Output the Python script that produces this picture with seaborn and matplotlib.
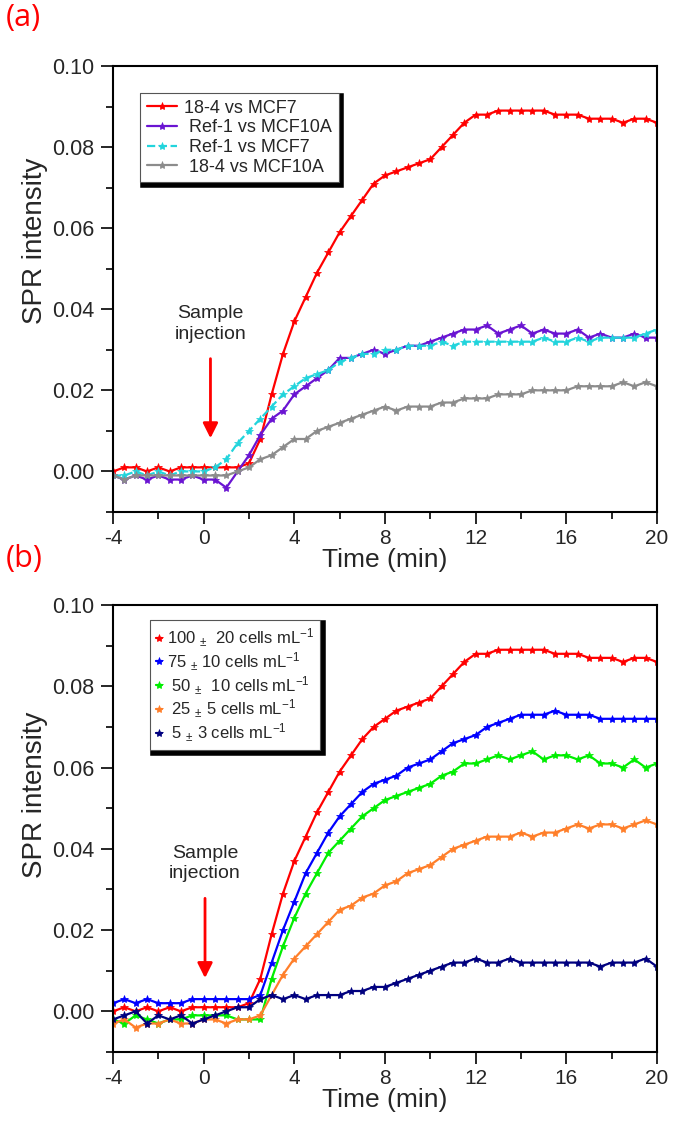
import numpy as np
import pandas as pd
import matplotlib
matplotlib.use("Agg")
import matplotlib.pyplot as plt
import seaborn as sns

# sampling grid (min), every 0.5 min from -4 to 20
TIME = np.arange(-4, 20.5, 0.5)

# panel (a)
A_LABELS = ["18-4 vs MCF7", " Ref-1 vs MCF10A", " Ref-1 vs MCF7", " 18-4 vs MCF10A"]
A_COLORS = ["#ff0000", "#6a14d2", "#22d4dc", "#8c8c8c"]
a_red = [0.000, 0.001, 0.001, 0.000, 0.001, 0.000, 0.001, 0.001, 0.001, 0.001,
         0.001, 0.001, 0.002, 0.008, 0.019, 0.029, 0.037, 0.043, 0.049, 0.054,
         0.059, 0.063, 0.067, 0.071, 0.073, 0.074, 0.075, 0.076, 0.077, 0.080,
         0.083, 0.086, 0.088, 0.088, 0.089, 0.089, 0.089, 0.089, 0.089, 0.088,
         0.088, 0.088, 0.087, 0.087, 0.087, 0.086, 0.087, 0.087, 0.086]
a_purple = [-0.001, -0.002, -0.001, -0.002, -0.001, -0.002, -0.002, -0.001, -0.002, -0.002,
            -0.004, 0.000, 0.004, 0.009, 0.013, 0.015, 0.019, 0.021, 0.023, 0.025,
            0.028, 0.028, 0.029, 0.030, 0.029, 0.030, 0.031, 0.031, 0.032, 0.033,
            0.034, 0.035, 0.035, 0.036, 0.034, 0.035, 0.036, 0.034, 0.035, 0.034,
            0.034, 0.035, 0.033, 0.034, 0.033, 0.033, 0.034, 0.033, 0.033]
a_cyan = [-0.001, -0.001, 0.000, -0.001, 0.000, -0.001, 0.000, 0.000, 0.000, 0.001,
          0.003, 0.007, 0.010, 0.013, 0.016, 0.019, 0.021, 0.023, 0.024, 0.025,
          0.027, 0.028, 0.029, 0.029, 0.030, 0.030, 0.031, 0.031, 0.031, 0.032,
          0.031, 0.032, 0.032, 0.032, 0.032, 0.032, 0.032, 0.032, 0.033, 0.032,
          0.032, 0.033, 0.032, 0.033, 0.033, 0.033, 0.033, 0.034, 0.035]
a_gray = [-0.001, -0.002, -0.001, -0.001, -0.001, -0.001, -0.001, -0.001, -0.001, -0.001,
          -0.001, 0.000, 0.001, 0.003, 0.004, 0.006, 0.008, 0.008, 0.010, 0.011,
          0.012, 0.013, 0.014, 0.015, 0.016, 0.015, 0.016, 0.016, 0.016, 0.017,
          0.017, 0.018, 0.018, 0.018, 0.019, 0.019, 0.019, 0.020, 0.020, 0.020,
          0.020, 0.021, 0.021, 0.021, 0.021, 0.022, 0.021, 0.022, 0.021]

# panel (b)
B_LABELS = [r"100 $_{\pm}$  20 cells mL$^{\mathregular{-1}}$",
            r"75 $_{\pm}$ 10 cells mL$^{\mathregular{-1}}$",
            r" 50 $_{\pm}$  10 cells mL$^{\mathregular{-1}}$",
            r" 25 $_{\pm}$ 5 cells mL$^{\mathregular{-1}}$",
            r" 5 $_{\pm}$ 3 cells mL$^{\mathregular{-1}}$"]
B_COLORS = ["#ff0000", "#0000ff", "#00ee00", "#ff7f2a", "#00007f"]
b_red = [0.000, 0.001, 0.000, 0.001, 0.000, 0.001, 0.000, 0.001, 0.001, 0.001,
         0.001, 0.001, 0.002, 0.008, 0.019, 0.029, 0.037, 0.043, 0.049, 0.054,
         0.059, 0.063, 0.067, 0.070, 0.072, 0.074, 0.075, 0.076, 0.077, 0.080,
         0.083, 0.086, 0.088, 0.088, 0.089, 0.089, 0.089, 0.089, 0.089, 0.088,
         0.088, 0.088, 0.087, 0.087, 0.087, 0.086, 0.087, 0.087, 0.086]
b_blue = [0.002, 0.003, 0.002, 0.003, 0.002, 0.002, 0.002, 0.003, 0.003, 0.003,
          0.003, 0.003, 0.003, 0.004, 0.012, 0.020, 0.027, 0.034, 0.039, 0.044,
          0.048, 0.051, 0.054, 0.056, 0.057, 0.058, 0.060, 0.061, 0.062, 0.064,
          0.066, 0.067, 0.068, 0.070, 0.071, 0.072, 0.073, 0.073, 0.073, 0.074,
          0.073, 0.073, 0.073, 0.072, 0.072, 0.072, 0.072, 0.072, 0.072]
b_green = [-0.002, -0.003, -0.001, -0.002, -0.003, -0.002, -0.002, -0.001, -0.001, -0.001,
           -0.001, -0.002, -0.002, -0.002, 0.008, 0.016, 0.023, 0.029, 0.034, 0.039,
           0.042, 0.045, 0.048, 0.050, 0.052, 0.053, 0.054, 0.055, 0.056, 0.058,
           0.059, 0.061, 0.061, 0.062, 0.063, 0.062, 0.063, 0.064, 0.062, 0.063,
           0.063, 0.062, 0.063, 0.061, 0.061, 0.060, 0.062, 0.060, 0.061]
b_orange = [-0.003, -0.002, -0.004, -0.003, -0.003, -0.002, -0.003, -0.003, -0.002, -0.002,
            -0.003, -0.002, -0.002, -0.001, 0.004, 0.009, 0.013, 0.016, 0.019, 0.022,
            0.025, 0.026, 0.028, 0.029, 0.031, 0.032, 0.034, 0.035, 0.036, 0.038,
            0.040, 0.041, 0.042, 0.043, 0.043, 0.043, 0.044, 0.043, 0.044, 0.044,
            0.045, 0.046, 0.045, 0.046, 0.046, 0.045, 0.046, 0.047, 0.046]
b_navy = [-0.002, -0.001, 0.000, -0.003, -0.001, -0.002, -0.001, -0.003, -0.002, -0.001,
          0.000, 0.001, 0.001, 0.003, 0.004, 0.003, 0.004, 0.003, 0.004, 0.004,
          0.004, 0.005, 0.005, 0.006, 0.006, 0.007, 0.008, 0.009, 0.010, 0.011,
          0.012, 0.012, 0.013, 0.012, 0.012, 0.013, 0.012, 0.012, 0.012, 0.012,
          0.012, 0.012, 0.012, 0.011, 0.012, 0.012, 0.012, 0.013, 0.011]

sns.set_style("ticks")
plt.rcParams["font.family"] = ["Liberation Sans", "DejaVu Sans"]
plt.rcParams["mathtext.fontset"] = "custom"
plt.rcParams["mathtext.rm"] = "Liberation Sans"
plt.rcParams["mathtext.it"] = "Liberation Sans"
plt.rcParams["axes.unicode_minus"] = False


def draw_panel(ax, series, labels, colors, styles, ylim, arrow_x, ylab_y, legend_box,
               legend_kw):
    for vals, lab, col, ls in zip(series, labels, colors, styles):
        sns.lineplot(x=TIME, y=vals, ax=ax, color=col, linestyle=ls, lw=1.6,
                     marker="*", markersize=6, mec=col, mfc=col, mew=0.5, label=lab)
    ax.set_xlim(-4, 20)
    ax.set_ylim(*ylim)
    ax.set_xticks(np.arange(-4, 21, 4))
    ax.set_xticks(np.arange(-2, 20, 4), minor=True)
    ax.set_yticks(np.arange(0, 0.101, 0.02))
    ax.set_yticks(np.arange(-0.01, 0.1, 0.02), minor=True)
    ax.yaxis.set_major_formatter(matplotlib.ticker.FormatStrFormatter("%.2f"))
    ax.tick_params(which="major", direction="out", length=8.5, width=1.4, pad=5,
                   top=False, right=False)
    ax.tick_params(axis="x", pad=4)
    ax.tick_params(axis="y", labelsize=15.5)
    ax.tick_params(axis="x", labelsize=15)
    ax.tick_params(which="minor", direction="out", length=5, width=1.4,
                   top=False, right=False)
    for sp in ax.spines.values():
        sp.set_linewidth(1.5)
        sp.set_color("black")
    ax.set_xlabel("Time (min)", fontsize=19, labelpad=0)
    ax.set_ylabel("SPR intensity", fontsize=20)
    ax.yaxis.set_label_coords(-0.12, ylab_y)
    ax.annotate("", xy=(arrow_x, 0.0075), xytext=(arrow_x, 0.0285),
                arrowprops=dict(arrowstyle="-|>,head_width=0.45,head_length=0.9",
                                color="#ff0000", lw=2))
    ax.text(arrow_x, 0.0318, "Sample\ninjection", ha="center", va="bottom",
            fontsize=14, linespacing=1.25)
    leg = ax.legend(loc="upper left", bbox_to_anchor=legend_box, borderaxespad=0,
                    frameon=True, fancybox=False, borderpad=0.35, framealpha=1,
                    shadow={"color": "black", "alpha": 1, "linewidth": 4},
                    **legend_kw)
    leg.get_frame().set_edgecolor("#555555")
    leg.get_frame().set_linewidth(0.8)


fig = plt.figure(figsize=(6.75, 11.24), dpi=100)
ax_a = fig.add_axes([0.1674, 0.5445, 0.8059, 0.3968])
ax_b = fig.add_axes([0.1674, 0.0641, 0.8059, 0.3976])

draw_panel(ax_a, [a_red, a_purple, a_cyan, a_gray], A_LABELS, A_COLORS,
           ["-", "-", "--", "-"], (-0.01, 0.10), 0.3, 0.608, (0.05, 0.939),
           dict(fontsize=13, handlelength=1.7, handletextpad=0.4, labelspacing=0.15))
draw_panel(ax_b, [b_red, b_blue, b_green, b_orange, b_navy], B_LABELS, B_COLORS,
           ["-"] * 5, (-0.005, 0.10), 0.06, 0.575, (0.068, 0.966),
           dict(fontsize=12, handlelength=0.35, handletextpad=0.3, labelspacing=0.08))

fig.text(0.008, 0.997, "(a)", color="#ff0000", fontsize=22, ha="left", va="top",
         family=["Open Sans", "DejaVu Sans"])
fig.text(0.008, 0.516, "(b)", color="#ff0000", fontsize=22, ha="left", va="top",
         family=["Open Sans", "DejaVu Sans"])

fig.savefig("out.png", dpi=100)
